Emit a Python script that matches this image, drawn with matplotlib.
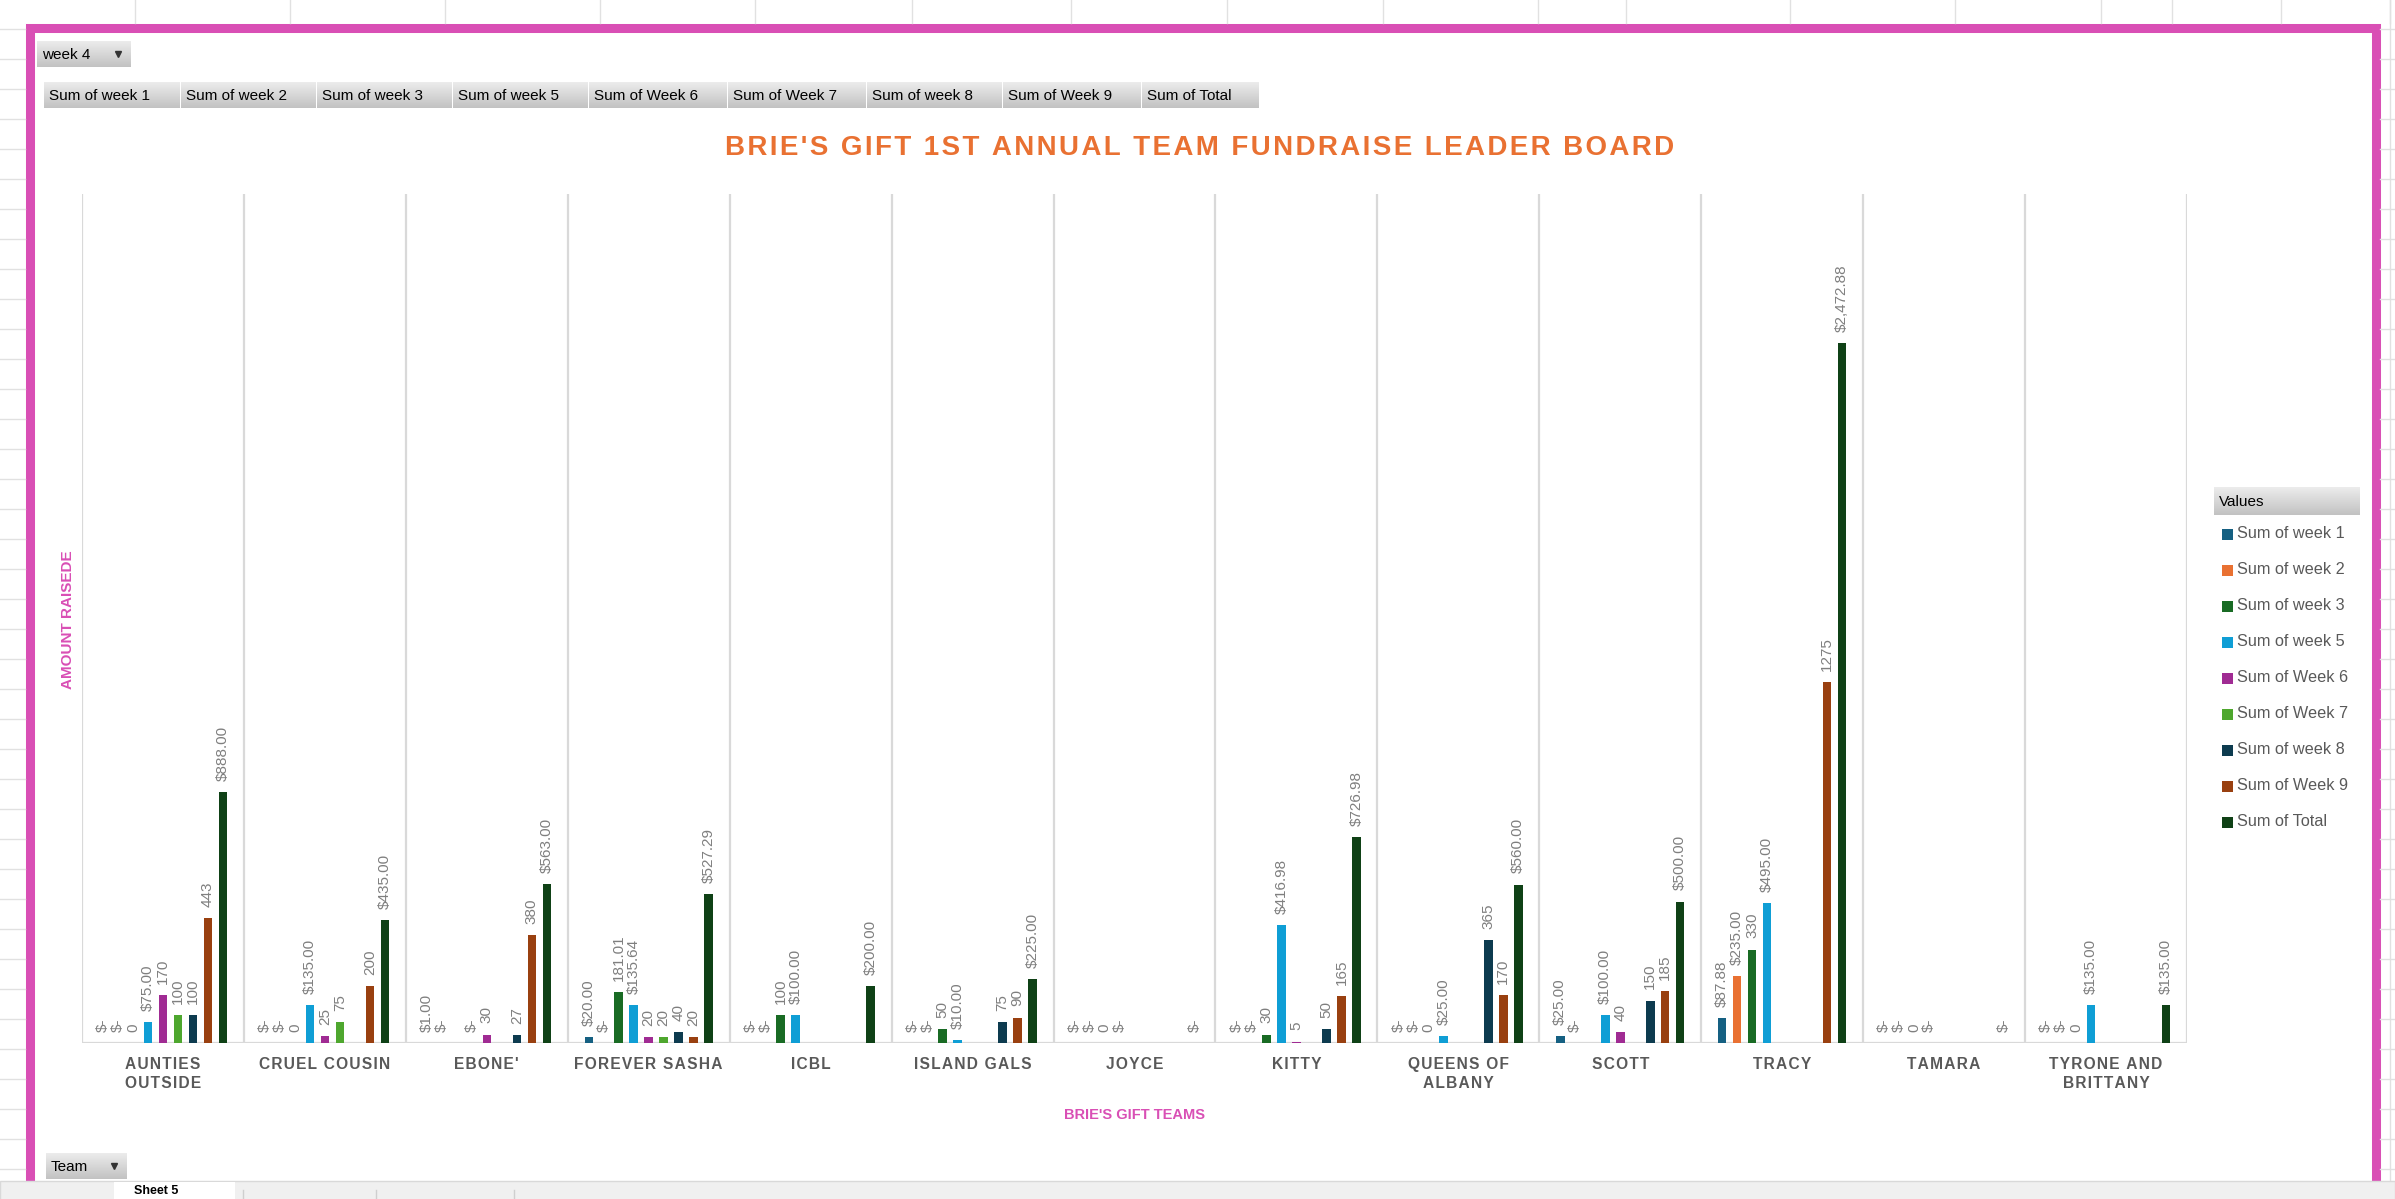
import matplotlib
matplotlib.use('Agg')
import matplotlib.pyplot as plt
import numpy as np
from matplotlib.patches import Rectangle
from matplotlib.colors import LinearSegmentedColormap

# Dane z tabeli przestawnej
teams = ["AUNTIES\nOUTSIDE", "CRUEL COUSIN", "EBONE'", "FOREVER SASHA", "ICBL",
         "ISLAND GALS", "JOYCE", "KITTY", "QUEENS OF\nALBANY", "SCOTT", "TRACY",
         "TAMARA", "TYRONE AND\nBRITTANY"]
nan = np.nan
week1 = [0, 0, 1, 20, 0, 0, 0, 0, 0, 25, 87.88, 0, 0]
week2 = [0, 0, 0, 0, 0, 0, 0, 0, 0, 0, 235, 0, 0]
week3 = [0, 0, nan, 181.01, 100, 50, 0, 30, 0, nan, 330, 0, 0]
week5 = [75, 135, 0, 135.64, 100, 10, 0, 416.98, 25, 100, 495, 0, 135]
week6 = [170, 25, 30, 20, nan, nan, nan, 5, nan, 40, nan, nan, nan]
week7 = [100, 75, nan, 20, nan, nan, nan, nan, nan, nan, nan, nan, nan]
week8 = [100, nan, 27, 40, nan, 75, nan, 50, 365, 150, nan, nan, nan]
week9 = [443, 200, 380, 20, nan, 90, nan, 165, 170, 185, 1275, nan, nan]
total = [888, 435, 563, 527.29, 200, 225, 0, 726.98, 560, 500, 2472.88, 0, 135]

series_names = ["Sum of week 1", "Sum of week 2", "Sum of week 3", "Sum of week 5",
                "Sum of Week 6", "Sum of Week 7", "Sum of week 8", "Sum of Week 9",
                "Sum of Total"]
series_vals = [week1, week2, week3, week5, week6, week7, week8, week9, total]
currency = [True, True, False, True, False, False, False, False, True]
colors = ['#156082', '#E97132', '#196B24', '#0F9ED5', '#A02B93', '#4EA72E',
          '#0D3B4F', '#994010', '#0F4116']

W, H = 2395, 1199
PINK = '#D94FB5'
GREY_TXT = '#595959'
FONT = ['Liberation Sans', 'DejaVu Sans']

def etykieta(v, cur):
    if cur:
        return '$-' if v == 0 else '${:,.2f}'.format(v)
    return '{:g}'.format(v)

def rozstrzel(s, sp='\u200a'):
    """rozstrzelenie liter (jak w Excelu)"""
    return '\n'.join(sp.join(linia) for linia in s.split('\n'))

fig = plt.figure(figsize=(W / 100, H / 100), dpi=100)

#------------------------------------------------------------------------------
# tlo: arkusz, ramka, przyciski
bg = fig.add_axes([0, 0, 1, 1])
bg.set_xlim(0, W)
bg.set_ylim(H, 0)
bg.axis('off')

for y in range(29, 1180, 30):
    bg.plot([0, 25], [y, y], color='#e1e1e1', lw=1)
    bg.plot([2380, W], [y, y], color='#e1e1e1', lw=1)
for x in [135, 290, 445, 600, 755, 912, 1071, 1227, 1383, 1538, 1626, 1790,
          1955, 2101, 2172, 2281, 2390]:
    bg.plot([x, x], [0, 23], color='#e1e1e1', lw=1)
bg.plot([2390, 2390], [0, 1180], color='#e1e1e1', lw=1)

bg.add_patch(Rectangle((29.5, 27.5), 2375.5 - 29.5, 1195 - 27.5, fill=False,
                       edgecolor=PINK, lw=6.5, joinstyle='miter'))

grad = LinearSegmentedColormap.from_list('btn', ['#ececec', '#c2c2c2'])
g = np.linspace(0, 1, 64).reshape(-1, 1)

def przycisk(x0, x1, y0, y1, txt, strzalka=False):
    bg.imshow(g, cmap=grad, extent=(x0, x1, y1, y0), aspect='auto',
              origin='upper', zorder=2)
    bg.text(x0 + 5, (y0 + y1) / 2 + 1, txt, fontsize=11, family=FONT,
            color='black', va='center', ha='left', zorder=3)
    if strzalka:
        bg.plot(x1 - 13, (y0 + y1) / 2, marker='v', ms=5, color='#333333', zorder=3)

przycisk(37, 131, 41, 67, 'week 4', True)
edges = [44, 181, 317, 453, 589, 728, 867, 1003, 1142, 1260]
for k, name in enumerate(series_names):
    przycisk(edges[k], edges[k + 1] - 1.5, 82, 108, name)
przycisk(46, 127, 1153, 1179, 'Team', True)
przycisk(2214, 2360, 487, 515, 'Values')

# zakladki arkusza
bg.add_patch(Rectangle((0, 1181), W, 20, facecolor='#f0f0f0', edgecolor='#d9d9d9',
                       lw=1, zorder=4))
bg.add_patch(Rectangle((114, 1182), 121, 20, facecolor='white', edgecolor='none',
                       zorder=5))
for x in [243, 376, 514]:
    bg.plot([x, x], [1190, H], color='#cfcfcf', lw=1, zorder=5)
bg.text(134, 1191, 'Sheet 5', fontsize=9, fontweight='bold', va='center',
        family=FONT, zorder=6)
bg.set_xlim(0, W)
bg.set_ylim(H, 0)

# legenda
for k, name in enumerate(series_names):
    yc = 534 + 36 * k
    bg.add_patch(Rectangle((2222, yc - 5.5), 11, 11, facecolor=colors[k],
                           edgecolor='none'))
    bg.text(2237, yc, name, fontsize=11.7, family=FONT,
            color=GREY_TXT, va='center', ha='left')

#------------------------------------------------------------------------------
# wykres slupkowy
ax = fig.add_axes([82 / W, (H - 1043) / H, (2187 - 82) / W, (1043 - 194) / H])
ax.patch.set_alpha(0)
n = len(teams)
x = np.arange(n) + 0.5
step = 15 / 162
width = 8.5 / 162

for j, vals in enumerate(series_vals):
    vals = np.array(vals, dtype=float)
    mask = ~np.isnan(vals)
    xs = x[mask] + (j - 4) * step
    ax.bar(xs, vals[mask], width=width, color=colors[j], zorder=3)
    for xi, v in zip(xs, vals[mask]):
        ax.annotate(etykieta(v, currency[j]), (xi, v), xytext=(0, 8),
                    textcoords='offset points', rotation=90, ha='center',
                    va='bottom', fontsize=11, color='#7f7f7f', family=FONT)

for k in range(n + 1):
    ax.axvline(k, color='#d9d9d9', lw=1.6, zorder=1)
ax.axhline(0, color='#d9d9d9', lw=1.6, zorder=2)

ax.set_xlim(0, n)
ax.set_ylim(0, 3000)
for s in ax.spines.values():
    s.set_visible(False)
ax.set_yticks([])
ax.set_xticks(x)
ax.set_xticklabels([rozstrzel(t) for t in teams], fontsize=11.2, fontweight='bold',
                   color=GREY_TXT, family=FONT, linespacing=1.35)
ax.tick_params(axis='x', length=0, pad=10)

fig.text(1200 / W, 1 - 148 / H,
         rozstrzel("BRIE'S GIFT 1ST ANNUAL TEAM FUNDRAISE LEADER BOARD"),
         fontsize=20, fontweight='bold', color='#E97132', ha='center', va='center',
         family=FONT)
fig.text(68 / W, 1 - 620 / H, 'AMOUNT RAISEDE', rotation=90, fontsize=11,
         fontweight='bold', color=PINK, ha='center', va='center', family=FONT)
fig.text(1135 / W, 1 - 1115 / H, "BRIE'S GIFT TEAMS", fontsize=10.5,
         fontweight='bold', color=PINK, ha='center', va='center', family=FONT)

fig.savefig('out.png', dpi=100)
